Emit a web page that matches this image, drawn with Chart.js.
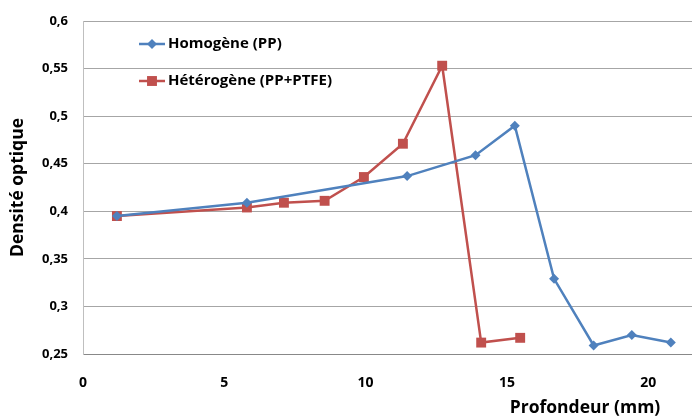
<!DOCTYPE html>
<html><head><meta charset="utf-8">
<script src="https://cdn.jsdelivr.net/npm/chart.js@4"></script>
<style>html,body{margin:0;padding:0;background:#fff}#wrap{width:692px;height:419px;position:relative}</style>
</head><body><div id="wrap"><canvas id="c" width="692" height="419"></canvas></div>
<script>
const seriesNames = ['Homogène (PP)', 'Hétérogène (PP+PTFE)'];
const homX = [1.2, 5.8, 11.47, 13.89, 15.28, 16.67, 18.07, 19.42, 20.8];
const homY = [0.395, 0.409, 0.437, 0.459, 0.490, 0.329, 0.259, 0.270, 0.262];
const hetX = [1.2, 5.8, 7.11, 8.55, 9.94, 11.32, 12.71, 14.09, 15.47];
const hetY = [0.395, 0.404, 0.409, 0.411, 0.436, 0.471, 0.553, 0.262, 0.267];
const xTicks = [0, 5, 10, 15, 20];
const yTicks = [0.25, 0.3, 0.35, 0.4, 0.45, 0.5, 0.55, 0.6];
const xTitle = 'Profondeur (mm)';
const yTitle = 'Densité optique';

const BLUE = '#4F81BD', RED = '#C0504D';
const FONT = '"Open Sans", "Liberation Sans", sans-serif';
const fmt = v => String(Math.round(v * 100) / 100).replace('.', ',');

const legendPlugin = {
  id: 'inlegend',
  afterDraw(chart) {
    const ctx = chart.ctx;
    const items = [
      {name: seriesNames[0], color: BLUE, style: 'rectRot', r: 5, y: 44},
      {name: seriesNames[1], color: RED, style: 'rect', r: 7, y: 81}
    ];
    ctx.save();
    items.forEach(it => {
      ctx.strokeStyle = it.color; ctx.lineWidth = 2.5;
      ctx.beginPath(); ctx.moveTo(139, it.y); ctx.lineTo(165, it.y); ctx.stroke();
      ctx.fillStyle = it.color;
      Chart.helpers.drawPoint(ctx, {pointStyle: it.style, radius: it.r, borderWidth: 0}, 152, it.y);
      ctx.fillStyle = '#000';
      ctx.font = 'bold 15px ' + FONT;
      ctx.textBaseline = 'middle'; ctx.textAlign = 'left';
      ctx.fillText(it.name, 168, it.y);
    });
    ctx.font = 'bold 17.5px ' + FONT;
    ctx.textAlign = 'center'; ctx.textBaseline = 'middle';
    ctx.fillText(xTitle, 585, 408);
    ctx.restore();
  }
};

new Chart(document.getElementById('c'), {
  type: 'line',
  data: {
    datasets: [
      {label: seriesNames[0], data: homX.map((x, i) => ({x, y: homY[i]})),
       borderColor: BLUE, backgroundColor: BLUE, borderWidth: 2.5,
       pointStyle: 'rectRot', pointRadius: 5, pointBorderWidth: 0, tension: 0},
      {label: seriesNames[1], data: hetX.map((x, i) => ({x, y: hetY[i]})),
       borderColor: RED, backgroundColor: RED, borderWidth: 2.5,
       pointStyle: 'rect', pointRadius: 7, pointBorderWidth: 0, tension: 0}
    ]
  },
  options: {
    responsive: false, animation: false, devicePixelRatio: 1,
    layout: {autoPadding: false, padding: {top: 21, right: 0, bottom: 0, left: 0}},
    plugins: {legend: {display: false}, tooltip: {enabled: false}},
    scales: {
      x: {
        type: 'linear', min: 0, max: 21.55,
        afterBuildTicks: s => { s.ticks = xTicks.map(v => ({value: v})); },
        afterFit: s => { s.height = 65; s.paddingLeft = 0; s.paddingRight = 0; },
        grid: {display: false, drawTicks: false},
        border: {display: true, color: '#888888', width: 1},
        ticks: {padding: 21, color: '#000', font: {family: FONT, size: 14, weight: 'bold'}, maxRotation: 0}
      },
      y: {
        type: 'linear', min: 0.25, max: 0.6,
        afterBuildTicks: s => { s.ticks = yTicks.map(v => ({value: v})); },
        afterFit: s => { s.width = 83; s.paddingTop = 0; s.paddingBottom = 0; },
        grid: {color: '#A6A6A6', lineWidth: 1, drawTicks: false},
        border: {display: true, color: '#BFBFBF', width: 1},
        ticks: {padding: 15, color: '#000', font: {family: FONT, size: 13, weight: 'bold'}, callback: v => fmt(v)},
        title: {display: true, text: yTitle, color: '#000', padding: {top: 8, bottom: 0}, font: {family: FONT, size: 17.5, weight: 'bold'}}
      }
    }
  },
  plugins: [legendPlugin]
});
</script></body></html>
